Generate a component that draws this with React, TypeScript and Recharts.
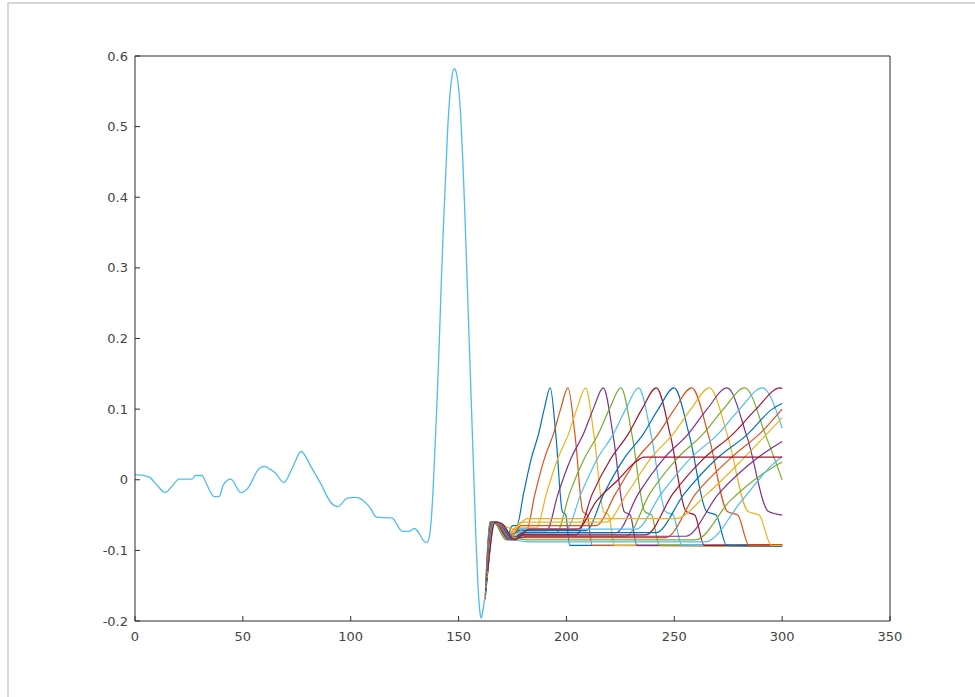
import { LineChart, Line, XAxis, YAxis } from "recharts";

// axis ticks
const xTicks = [0, 50, 100, 150, 200, 250, 300, 350];
const yTicks = [-0.2, -0.1, 0, 0.1, 0.2, 0.3, 0.4, 0.5, 0.6];

// matlab default colour order
const lineColors = ["#0072BD", "#D95319", "#EDB120", "#7E2F8E", "#77AC30", "#4DBEEE", "#A2142F"];
const signalColor = "#4DBEEE";

// measured signal, [sample, value]
const signal: [number, number][] = [
  [0, 0.007], [2, 0.007], [4, 0.006], [7, 0.003], [10, -0.007], [14, -0.018], [17, -0.01],
  [20.4, 0.001], [26.5, 0.001], [28, 0.006], [31, 0.006], [33, -0.005], [36.7, -0.024],
  [39, -0.024], [41, -0.007], [44.4, 0.001], [49, -0.018], [52, -0.013], [57.6, 0.016],
  [60, 0.019], [62, 0.016], [65, 0.01], [69, -0.004], [73, 0.017], [77, 0.04], [81.5, 0.019],
  [86, -0.005], [91, -0.033], [94, -0.038], [98.5, -0.026], [102.5, -0.025], [108.6, -0.038],
  [112, -0.053], [119, -0.054], [124, -0.073], [127, -0.073], [129.5, -0.069], [135, -0.089],
  [136, -0.086], [137, -0.068], [138, -0.025], [139, 0.04], [140, 0.11], [141, 0.19], [142, 0.28],
  [143, 0.36], [144, 0.43], [145, 0.5], [146, 0.545], [147, 0.572], [148, 0.582], [149, 0.576],
  [150, 0.555], [151, 0.515], [152, 0.45], [153, 0.37], [154, 0.28], [155, 0.19], [156, 0.1],
  [157, 0.01], [158, -0.08], [159, -0.15], [160, -0.19], [160.5, -0.196], [161, -0.19], [162, -0.17],
];

// predicted continuations, one per run
const predictions: [number, number][][] = [
  [[162.3, -0.17], [164.5, -0.06], [167, -0.062], [172, -0.085], [175, -0.065], [177, -0.065], [180.1, -0.02], [183.7, 0.03], [187.1, 0.065], [189.7, 0.1], [192.5, 0.13], [195.2, 0.06], [198.1, -0.045], [199.7, -0.05], [201.5, -0.093], [300, -0.093]],
  [[162.4, -0.168], [164.6, -0.06], [167.2, -0.062], [172.2, -0.082], [176, -0.07], [181.6, -0.07], [185.4, -0.02], [189.8, 0.03], [194, 0.065], [197.3, 0.1], [200.7, 0.13], [204.1, 0.06], [207.6, -0.045], [209.7, -0.05], [211.9, -0.093], [300, -0.094]],
  [[162.4, -0.166], [164.7, -0.06], [167.3, -0.062], [172.4, -0.085], [176, -0.068], [186.2, -0.068], [190.7, -0.02], [196, 0.03], [201, 0.065], [204.8, 0.1], [208.9, 0.13], [212.9, 0.06], [217.2, -0.045], [219.6, -0.05], [222.3, -0.093], [300, -0.092]],
  [[162.5, -0.164], [164.9, -0.06], [167.5, -0.062], [172.6, -0.082], [177, -0.072], [190.8, -0.072], [196.1, -0.02], [202.1, 0.03], [207.9, 0.065], [212.4, 0.1], [217.1, 0.13], [221.8, 0.06], [226.8, -0.045], [229.6, -0.05], [232.7, -0.093], [300, -0.093]],
  [[162.5, -0.162], [165, -0.06], [167.6, -0.062], [172.8, -0.085], [177, -0.075], [195.4, -0.075], [201.4, -0.02], [208.3, 0.03], [214.8, 0.065], [219.9, 0.1], [225.3, 0.13], [230.6, 0.06], [236.3, -0.045], [239.5, -0.05], [243.1, -0.093], [300, -0.094]],
  [[162.6, -0.16], [165.1, -0.06], [167.8, -0.062], [173, -0.082], [178, -0.07], [200, -0.07], [206.7, -0.02], [214.4, 0.03], [221.8, 0.065], [227.5, 0.1], [233.5, 0.13], [239.5, 0.06], [245.9, -0.045], [249.5, -0.05], [253.5, -0.093], [300, -0.093]],
  [[162.7, -0.158], [165.2, -0.06], [167.9, -0.062], [173.2, -0.085], [178, -0.078], [204.6, -0.078], [212, -0.02], [220.6, 0.03], [228.7, 0.065], [235, 0.1], [241.7, 0.13], [248.4, 0.06], [255.5, -0.045], [259.5, -0.05], [263.9, -0.093], [300, -0.092]],
  [[162.7, -0.156], [165.3, -0.06], [168.1, -0.062], [173.4, -0.082], [178, -0.072], [209.2, -0.072], [217.3, -0.02], [226.7, 0.03], [235.7, 0.065], [242.6, 0.1], [249.9, 0.13], [257.2, 0.06], [265, -0.045], [269.4, -0.05], [274.3, -0.093], [300, -0.094]],
  [[162.8, -0.154], [165.5, -0.06], [168.2, -0.062], [173.6, -0.085], [179, -0.065], [213.8, -0.065], [222.7, -0.02], [232.8, 0.03], [242.6, 0.065], [250.1, 0.1], [258.1, 0.13], [266.1, 0.06], [274.6, -0.045], [279.4, -0.05], [284.7, -0.093], [300, -0.093]],
  [[162.8, -0.152], [165.6, -0.06], [168.4, -0.062], [173.8, -0.082], [179, -0.06], [218.4, -0.06], [228, -0.02], [239, 0.03], [249.5, 0.065], [257.7, 0.1], [266.3, 0.13], [274.9, 0.06], [284.2, -0.045], [289.3, -0.05], [295.1, -0.093], [300, -0.093]],
  [[162.9, -0.15], [165.7, -0.06], [168.5, -0.062], [174, -0.085], [180, -0.075], [223, -0.075], [233.3, -0.02], [245.1, 0.03], [256.5, 0.065], [265.2, 0.1], [274.5, 0.13], [283.8, 0.06], [293.7, -0.045], [300, -0.05]],
  [[163, -0.148], [165.8, -0.06], [168.7, -0.062], [174.2, -0.082], [180, -0.08], [227.6, -0.08], [238.6, -0.02], [251.3, 0.03], [263.4, 0.065], [272.8, 0.1], [282.7, 0.13], [292.7, 0.06], [300, 0.0]],
  [[163, -0.146], [165.9, -0.06], [168.8, -0.062], [174.4, -0.085], [180, -0.07], [232.2, -0.07], [243.9, -0.02], [257.4, 0.03], [270.4, 0.065], [280.3, 0.1], [290.9, 0.13], [300, 0.073]],
  [[163.1, -0.144], [166.1, -0.06], [169, -0.062], [174.6, -0.082], [181, -0.078], [236.8, -0.078], [249.3, -0.02], [263.6, 0.03], [277.3, 0.065], [287.9, 0.1], [299.1, 0.13], [300, 0.129]],
  [[163.1, -0.142], [166.2, -0.06], [169.1, -0.062], [174.8, -0.085], [181, -0.075], [241.4, -0.075], [254.6, -0.02], [269.7, 0.03], [284.2, 0.065], [295.4, 0.1], [300, 0.108]],
  [[163.2, -0.14], [166.3, -0.06], [169.3, -0.062], [175, -0.082], [181, -0.082], [246, -0.082], [259.9, -0.02], [275.9, 0.03], [291.2, 0.07], [300, 0.1]],
  [[163.3, -0.138], [166.4, -0.06], [169.4, -0.062], [175.2, -0.07], [182, -0.055], [250.6, -0.055], [265.2, -0.02], [282, 0.03], [300, 0.088]],
  [[163.3, -0.136], [166.5, -0.06], [169.6, -0.062], [175.4, -0.085], [182, -0.08], [255.2, -0.08], [270.5, -0.02], [288.2, 0.03], [300, 0.054]],
  [[163.4, -0.134], [166.7, -0.06], [169.7, -0.062], [175.6, -0.082], [182, -0.085], [259.8, -0.085], [275.8, -0.03], [294.3, 0.015], [300, 0.025]],
  [[163.4, -0.132], [166.8, -0.06], [169.9, -0.062], [175.8, -0.085], [183, -0.088], [264.4, -0.088], [281.2, -0.03], [295, 0.02], [300, 0.033]],
  [[163.5, -0.13], [166.9, -0.06], [170, -0.062], [176, -0.085], [183, -0.07], [205, -0.07], [214, -0.03], [224, 0.0], [232, 0.025], [236, 0.032], [300, 0.032]],
];

const axisColor = "#2b2b2b";
const labelStyle = { fontFamily: "DejaVu Sans", fontSize: 13, fill: "#444" };
const tickLen = 5;

const toPoints = (arr: [number, number][]) => arr.map(([x, y]) => ({ x, y }));

const BottomTick = (props: any) => {
  const { x, y, payload } = props;
  return (
    <g>
      <line x1={x} y1={y} x2={x} y2={y - tickLen} stroke={axisColor} />
      <text x={x} y={y + 20} textAnchor="middle" {...labelStyle}>
        {payload.value}
      </text>
    </g>
  );
};

const LeftTick = (props: any) => {
  const { x, y, payload } = props;
  return (
    <g>
      <line x1={x} y1={y} x2={x + tickLen} y2={y} stroke={axisColor} />
      <text x={x - 7} y={y + 4.5} textAnchor="end" {...labelStyle}>
        {payload.value}
      </text>
    </g>
  );
};

const TopTick = (props: any) => {
  const { x, y } = props;
  return <line x1={x} y1={y} x2={x} y2={y + tickLen} stroke={axisColor} />;
};

const RightTick = (props: any) => {
  const { x, y } = props;
  return <line x1={x} y1={y} x2={x - tickLen} y2={y} stroke={axisColor} />;
};

export default function App() {
  return (
    <div style={{ position: "absolute", left: 0, top: 0, width: 975, height: 697, background: "#fff" }}>
      <div
        style={{
          position: "absolute",
          left: 7,
          top: 2,
          right: 0,
          bottom: 0,
          borderLeft: "2px solid #d8d8d8",
          borderTop: "2px solid #d8d8d8",
        }}
      />
      <LineChart width={975} height={697} margin={{ top: 46, right: 75, bottom: 46, left: 75 }}>
        <XAxis
          xAxisId="b"
          dataKey="x"
          type="number"
          domain={[0, 350]}
          ticks={xTicks}
          interval={0}
          height={30}
          tickSize={0}
          tickMargin={0}
          tick={<BottomTick />}
          axisLine={{ stroke: axisColor }}
        />
        <XAxis
          xAxisId="t"
          orientation="top"
          dataKey="x"
          type="number"
          domain={[0, 350]}
          ticks={xTicks}
          interval={0}
          height={10}
          tickSize={0}
          tickMargin={0}
          tick={<TopTick />}
          axisLine={{ stroke: axisColor }}
        />
        <YAxis
          yAxisId="l"
          type="number"
          domain={[-0.2, 0.6]}
          ticks={yTicks}
          interval={0}
          width={60}
          tickSize={0}
          tickMargin={0}
          tick={<LeftTick />}
          axisLine={{ stroke: axisColor }}
        />
        <YAxis
          yAxisId="r"
          orientation="right"
          type="number"
          domain={[-0.2, 0.6]}
          ticks={yTicks}
          interval={0}
          width={10}
          tickSize={0}
          tickMargin={0}
          tick={<RightTick />}
          axisLine={{ stroke: axisColor }}
        />
        <Line
          xAxisId="b"
          yAxisId="l"
          data={toPoints(signal)}
          dataKey="y"
          type="monotone"
          stroke={signalColor}
          strokeWidth={1.3}
          dot={false}
          isAnimationActive={false}
        />
        {predictions.map((trace, i) => (
          <Line
            key={i}
            xAxisId="b"
            yAxisId="l"
            data={toPoints(trace)}
            dataKey="y"
            type="monotone"
            stroke={lineColors[i % lineColors.length]}
            strokeWidth={1.2}
            dot={false}
            isAnimationActive={false}
          />
        ))}
      </LineChart>
    </div>
  );
}
